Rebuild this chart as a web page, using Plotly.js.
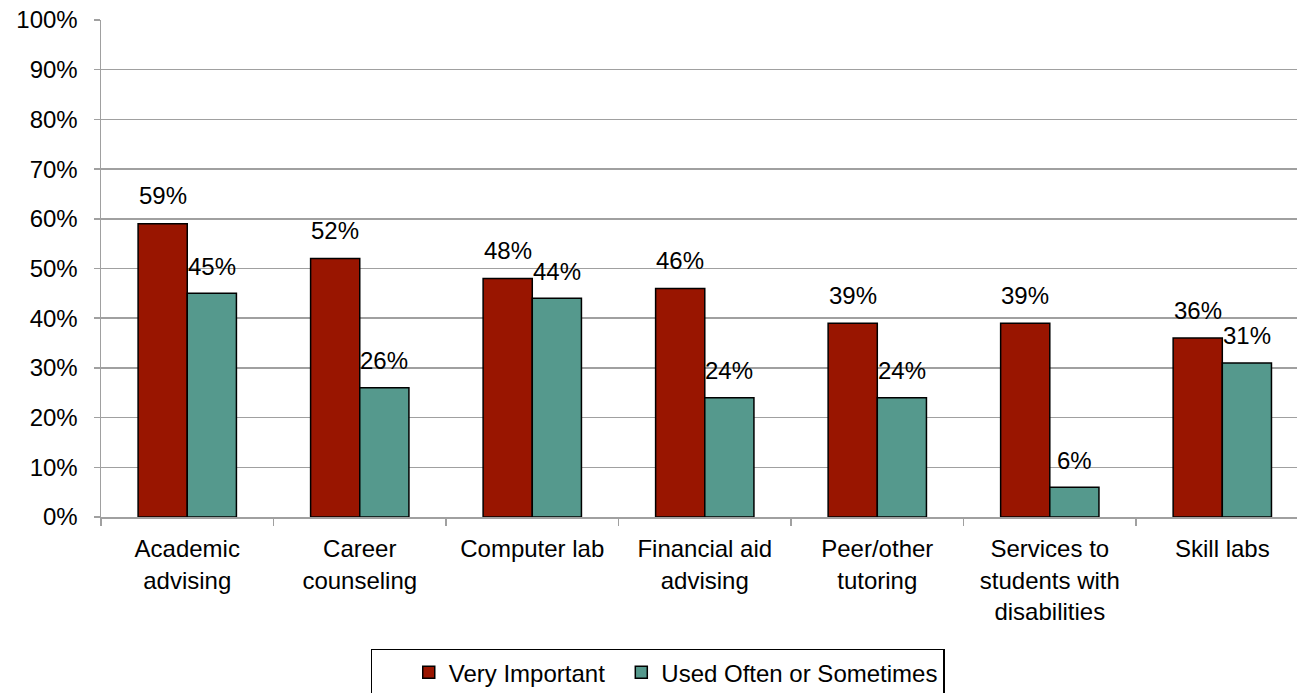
<!DOCTYPE html>
<html>
<head>
<meta charset="utf-8">
<script src="https://cdn.plot.ly/plotly-3.0.1.min.js"></script>
<style>html,body{margin:0;padding:0;background:#fff;}#chart{width:1297px;height:693px;}</style>
</head>
<body>
<div id="chart"></div>
<script>
const categories = ["Academic<br>advising", "Career<br>counseling", "Computer lab", "Financial aid<br>advising", "Peer/other<br>tutoring", "Services to<br>students with<br>disabilities", "Skill labs"];
const veryImportant = [59, 52, 48, 46, 39, 39, 36];
const usedOften = [45, 26, 44, 24, 24, 6, 31];
const seriesNames = ["Very Important", "Used Often or Sometimes"];
const yTickVals = [0, 10, 20, 30, 40, 50, 60, 70, 80, 90, 100];
const yTickText = ["0%", "10%", "20%", "30%", "40%", "50%", "60%", "70%", "80%", "90%", "100%"];

const FONT = "Liberation Sans, Arial, sans-serif";
const red = "#991500", teal = "#55998D";
const NB = "\u00a0";

const traces = [
  {type: "bar", name: seriesNames[0] + NB + "\u2009", x: categories, y: veryImportant,
   marker: {color: red, line: {color: "#000", width: 1.5}}, hoverinfo: "y"},
  {type: "bar", name: seriesNames[1], x: categories, y: usedOften,
   marker: {color: teal, line: {color: "#000", width: 1.5}}, hoverinfo: "y"}
];

const off = 0.142;
const annotations = [];
veryImportant.forEach((v, i) => annotations.push({x: i - off, y: v, xref: "x", yref: "y", text: v + "%", showarrow: false, yanchor: "middle", yshift: 28, font: {family: FONT, size: 24, color: "#000"}}));
usedOften.forEach((v, i) => annotations.push({x: i + off, y: v, xref: "x", yref: "y", text: v + "%", showarrow: false, yanchor: "middle", yshift: 27, font: {family: FONT, size: 24, color: "#000"}}));

const layout = {
  width: 1297, height: 693,
  margin: {l: 101, r: 0, t: 19.5, b: 176, pad: 0},
  paper_bgcolor: "#fff", plot_bgcolor: "#fff",
  font: {family: FONT, size: 24, color: "#000"},
  barmode: "group", bargap: 0.43, bargroupgap: 0,
  showlegend: true,
  legend: {orientation: "h", xref: "container", yref: "container", x: 0.507, xanchor: "center", y: 0.064, yanchor: "top",
           title: {text: NB + NB + NB + NB, side: "left", font: {family: FONT, size: 24}},
           bordercolor: "#000", borderwidth: 1.5, font: {family: FONT, size: 24, color: "#000"}, traceorder: "normal"},
  xaxis: {type: "category", range: [-0.5, 6.433], tickson: "boundaries", ticks: "outside", ticklen: 7, tickcolor: "#a0a0a0", tickwidth: 1.5,
          showline: true, linecolor: "#a0a0a0", linewidth: 1.5, showgrid: false, zeroline: false,
          ticklabelstandoff: 10,
          tickfont: {family: FONT, size: 24, color: "#000"}, fixedrange: true},
  yaxis: {range: [0, 100], tickvals: yTickVals, ticktext: yTickText, ticks: "outside", ticklen: 6, tickcolor: "#a0a0a0", tickwidth: 1.5,
          showline: true, linecolor: "#a0a0a0", linewidth: 1.5, showgrid: true, gridcolor: "#a0a0a0", gridwidth: 1.5, zeroline: false,
          ticklabelstandoff: 11, tickfont: {family: FONT, size: 24, color: "#000"}, fixedrange: true},
  annotations: annotations
};

Plotly.newPlot("chart", traces, layout, {displayModeBar: false, staticPlot: true});
</script>
</body>
</html>
